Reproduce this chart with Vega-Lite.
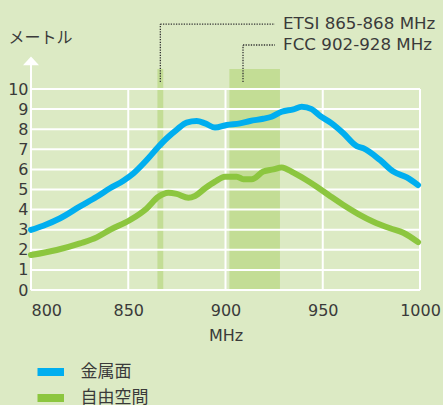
{
  "$schema": "https://vega.github.io/schema/vega-lite/v6.json",
  "width": 389,
  "height": 201,
  "autosize": {"type": "none"},
  "padding": {"left": 31, "top": 89, "right": 23, "bottom": 115},
  "background": "#dceac4",
  "config": {
    "view": {"stroke": null},
    "font": "DejaVu Sans",
    "axis": {
      "grid": false, "domain": false, "ticks": false,
      "labelFont": "DejaVu Sans", "labelFontSize": 16, "labelColor": "#3a3a3a",
      "titleFont": "DejaVu Sans", "titleFontSize": 16, "titleColor": "#3a3a3a", "titleFontWeight": "normal"
    },
    "legend": {
      "orient": "none", "legendX": 6.5, "legendY": 270, "padding": 0,
      "title": null,
      "symbolType": "M-2,0H2", "symbolSize": 225, "symbolStrokeWidth": 8,
      "labelFont": "Noto Sans CJK JP", "labelFontSize": 17, "labelColor": "#3a3a3a",
      "labelOffset": 20, "rowPadding": 0, "clipHeight": 26
    }
  },
  "datasets": {
    "bands": [
      {"band": "ETSI", "f": 865, "f2": 868, "v": 0, "v2": 11},
      {"band": "FCC", "f": 902, "f2": 928, "v": 0, "v2": 11}
    ],
    "hgrid": [{"v": 0}, {"v": 1}, {"v": 2}, {"v": 3}, {"v": 4}, {"v": 5}, {"v": 6}, {"v": 7}, {"v": 8}, {"v": 9}, {"v": 10}],
    "vgrid": [{"f": 850, "v": 0, "v2": 10}, {"f": 900, "v": 0, "v2": 10}, {"f": 950, "v": 0, "v2": 10}, {"f": 1000, "v": 0, "v2": 10}],
    "yaxis": [{"f": 800, "v": 0, "v2": 11.3}],
    "arrow": [{"f": 800, "v": 11.4}],
    "curves": [
      {"s": "金属面", "f": 800, "v": 2.99},
      {"s": "金属面", "f": 806.3, "v": 3.2},
      {"s": "金属面", "f": 815, "v": 3.57},
      {"s": "金属面", "f": 825, "v": 4.15},
      {"s": "金属面", "f": 833.8, "v": 4.64},
      {"s": "金属面", "f": 840.6, "v": 5.06},
      {"s": "金属面", "f": 847.5, "v": 5.44},
      {"s": "金属面", "f": 852.6, "v": 5.8},
      {"s": "金属面", "f": 859.5, "v": 6.47},
      {"s": "金属面", "f": 866.3, "v": 7.21},
      {"s": "金属面", "f": 869.8, "v": 7.55},
      {"s": "金属面", "f": 875, "v": 7.98},
      {"s": "金属面", "f": 880, "v": 8.33},
      {"s": "金属面", "f": 885.2, "v": 8.41},
      {"s": "金属面", "f": 889.5, "v": 8.29},
      {"s": "金属面", "f": 894.6, "v": 8.08},
      {"s": "金属面", "f": 900.6, "v": 8.21},
      {"s": "金属面", "f": 907.5, "v": 8.29},
      {"s": "金属面", "f": 912.6, "v": 8.41},
      {"s": "金属面", "f": 919.4, "v": 8.52},
      {"s": "金属面", "f": 923.7, "v": 8.62},
      {"s": "金属面", "f": 928.9, "v": 8.87},
      {"s": "金属面", "f": 934.9, "v": 8.99},
      {"s": "金属面", "f": 939.2, "v": 9.12},
      {"s": "金属面", "f": 944.3, "v": 9.0},
      {"s": "金属面", "f": 948.6, "v": 8.66},
      {"s": "金属面", "f": 954.6, "v": 8.29},
      {"s": "金属面", "f": 960.6, "v": 7.8},
      {"s": "金属面", "f": 967.5, "v": 7.16},
      {"s": "金属面", "f": 970.9, "v": 7.05},
      {"s": "金属面", "f": 979.4, "v": 6.47},
      {"s": "金属面", "f": 986.3, "v": 5.89},
      {"s": "金属面", "f": 993.2, "v": 5.6},
      {"s": "金属面", "f": 999, "v": 5.22},
      {"s": "自由空間", "f": 800, "v": 1.74},
      {"s": "自由空間", "f": 813.2, "v": 1.99},
      {"s": "自由空間", "f": 825.2, "v": 2.32},
      {"s": "自由空間", "f": 833.8, "v": 2.62},
      {"s": "自由空間", "f": 840.6, "v": 2.99},
      {"s": "自由空間", "f": 850.9, "v": 3.48},
      {"s": "自由空間", "f": 859.5, "v": 4.06},
      {"s": "自由空間", "f": 865.5, "v": 4.64},
      {"s": "自由空間", "f": 870.6, "v": 4.84},
      {"s": "自由空間", "f": 874.9, "v": 4.78},
      {"s": "自由空間", "f": 880.9, "v": 4.59},
      {"s": "自由空間", "f": 884.3, "v": 4.68},
      {"s": "自由空間", "f": 889.5, "v": 5.06},
      {"s": "自由空間", "f": 894.6, "v": 5.39},
      {"s": "自由空間", "f": 899.7, "v": 5.64},
      {"s": "自由空間", "f": 905.8, "v": 5.64},
      {"s": "自由空間", "f": 909.2, "v": 5.51},
      {"s": "自由空間", "f": 913.5, "v": 5.51},
      {"s": "自由空間", "f": 919.4, "v": 5.89},
      {"s": "自由空間", "f": 924.6, "v": 6.0},
      {"s": "自由空間", "f": 928.9, "v": 6.1},
      {"s": "自由空間", "f": 934.9, "v": 5.84},
      {"s": "自由空間", "f": 940.9, "v": 5.51},
      {"s": "自由空間", "f": 946.9, "v": 5.14},
      {"s": "自由空間", "f": 953.7, "v": 4.68},
      {"s": "自由空間", "f": 960.6, "v": 4.23},
      {"s": "自由空間", "f": 968.3, "v": 3.78},
      {"s": "自由空間", "f": 976, "v": 3.4},
      {"s": "自由空間", "f": 984.6, "v": 3.07},
      {"s": "自由空間", "f": 991.4, "v": 2.85},
      {"s": "自由空間", "f": 999, "v": 2.38}
    ],
    "leaders": [
      {"f": 866.5, "f2": 925.4, "v": 13.23, "v2": 13.23},
      {"f": 866.5, "f2": 866.5, "v": 10.35, "v2": 13.23},
      {"f": 909, "f2": 925.4, "v": 12.19, "v2": 12.19},
      {"f": 909, "f2": 909, "v": 10.35, "v2": 12.19}
    ],
    "notes": [
      {"label": "ETSI 865-868 MHz", "f": 929.6, "v": 13.23},
      {"label": "FCC 902-928 MHz", "f": 929.6, "v": 12.19}
    ]
  },
  "layer": [
    {
      "data": {"name": "bands"},
      "mark": {"type": "rect", "color": "#c3dd95"},
      "encoding": {
        "x": {"field": "f", "type": "quantitative", "scale": {"domain": [800, 1000], "nice": false, "zero": false},
          "axis": {"title": "MHz", "values": [800, 850, 900, 950, 1000], "format": "d", "labelPadding": 12, "titlePadding": 9, "labelOverlap": false,
            "labelAlign": {"condition": {"test": "datum.value == 800", "value": "left"}, "value": "center"}}},
        "x2": {"field": "f2"},
        "y": {"field": "v", "type": "quantitative", "scale": {"domain": [0, 10], "nice": false},
          "axis": {"title": "メートル", "titleFont": "Noto Sans CJK JP", "titleFontSize": 16, "tickCount": 11, "values": [0, 1, 2, 3, 4, 5, 6, 7, 8, 9, 10], "labelPadding": 3, "labelOverlap": false, "labelSeparation": -10, "labelBound": false,
            "titleAngle": 0, "titleAlign": "left", "titleBaseline": "middle", "titleX": -23, "titleY": -52}},
        "y2": {"field": "v2"}
      }
    },
    {
      "data": {"name": "hgrid"},
      "mark": {"type": "rule", "color": "white", "strokeWidth": 2},
      "encoding": {"y": {"field": "v", "type": "quantitative"}}
    },
    {
      "data": {"name": "vgrid"},
      "mark": {"type": "rule", "color": "white", "strokeWidth": 2},
      "encoding": {
        "x": {"field": "f", "type": "quantitative"},
        "y": {"field": "v", "type": "quantitative"},
        "y2": {"field": "v2"}
      }
    },
    {
      "data": {"name": "yaxis"},
      "mark": {"type": "rule", "color": "white", "strokeWidth": 2},
      "encoding": {
        "x": {"field": "f", "type": "quantitative"},
        "y": {"field": "v", "type": "quantitative"},
        "y2": {"field": "v2"}
      }
    },
    {
      "data": {"name": "arrow"},
      "mark": {"type": "point", "shape": "M-1,0.55L0,-0.55L1,0.55Z", "size": 256, "filled": true, "color": "white", "opacity": 1},
      "encoding": {
        "x": {"field": "f", "type": "quantitative"},
        "y": {"field": "v", "type": "quantitative"}
      }
    },
    {
      "data": {"name": "curves"},
      "mark": {"type": "line", "strokeWidth": 6, "strokeCap": "round", "strokeJoin": "round", "interpolate": "monotone"},
      "encoding": {
        "x": {"field": "f", "type": "quantitative"},
        "y": {"field": "v", "type": "quantitative"},
        "color": {"field": "s", "type": "nominal", "scale": {"domain": ["金属面", "自由空間"], "range": ["#00aeef", "#8cc63f"]}}
      }
    },
    {
      "data": {"name": "leaders"},
      "mark": {"type": "rule", "color": "#333333", "strokeWidth": 1.3, "strokeDash": [1.3, 1.3]},
      "encoding": {
        "x": {"field": "f", "type": "quantitative"},
        "x2": {"field": "f2"},
        "y": {"field": "v", "type": "quantitative"},
        "y2": {"field": "v2"}
      }
    },
    {
      "data": {"name": "notes"},
      "mark": {"type": "text", "align": "left", "baseline": "middle", "font": "DejaVu Sans", "fontSize": 16.7, "color": "#3a3a3a"},
      "encoding": {
        "x": {"field": "f", "type": "quantitative"},
        "y": {"field": "v", "type": "quantitative"},
        "text": {"field": "label"}
      }
    }
  ]
}
